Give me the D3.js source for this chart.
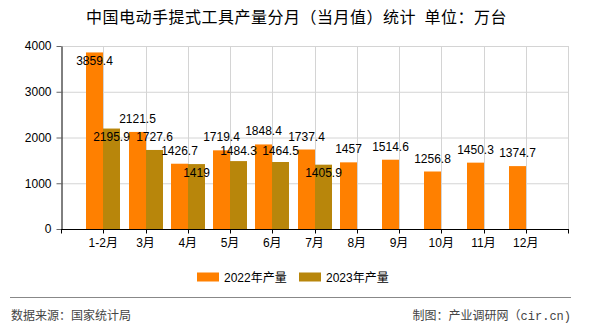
<!DOCTYPE html>
<html><head><meta charset="utf-8">
<script src="https://cdn.jsdelivr.net/npm/d3@7/dist/d3.min.js"></script>
<style>
html,body{margin:0;padding:0;background:#fff;}
svg text{font-family:"Liberation Sans","Noto Sans CJK SC",sans-serif;}
</style></head>
<body>
<svg id="c" width="590" height="330"></svg>
<script>
const categories = ["1-2月","3月","4月","5月","6月","7月","8月","9月","10月","11月","12月"];
const seriesNames = ["2022年产量","2023年产量"];
const values2022 = [3859.4,2121.5,1426.7,1719.4,1848.4,1737.4,1457,1514.6,1256.8,1450.3,1374.7];
const values2023 = [2195.9,1727.6,1419,1484.3,1464.5,1405.9];
const yTicks = [0,1000,2000,3000,4000];
const colors = ["#FF8000","#B8860B"];
const titleText = "中国电动手提式工具产量分月（当月值）统计\u2002单位：万台";
const sourceText = "数据来源：国家统计局";
const creditCJK = "制图：产业调研网（";
const creditLatin = "cir.cn)";

const svg = d3.select("#c");
const L = 61, R = 568, T = 46, B = 229;
const step = (R - L) / 12;
const x = d3.scaleBand().domain(categories).range([L + step/2, R - step/2]).paddingInner(0).paddingOuter(0);
const cx = c => x(c) + x.bandwidth()/2;
const inner = d3.scaleBand().domain(seriesNames).range([-17, 17]);
const y = d3.scaleLinear().domain([0,4000]).range([B, T]);

// title
svg.append("text").attr("x", 86).attr("y", 23).attr("font-size", 16).attr("fill", "#000")
  .style("font-family", "'Noto Sans CJK SC',sans-serif").style("letter-spacing", "0.5px").text(titleText);

// grid
const g = svg.append("g");
g.selectAll("line.h").data(yTicks.filter(d => d > 0)).enter().append("line")
  .attr("x1", L).attr("x2", R).attr("y1", d => y(d) + 0.5).attr("y2", d => y(d) + 0.5)
  .attr("stroke", "#d4d4d4").attr("stroke-width", 1);
g.selectAll("line.v").data(categories).enter().append("line")
  .attr("x1", d => Math.round(cx(d)) + 0.5).attr("x2", d => Math.round(cx(d)) + 0.5)
  .attr("y1", T).attr("y2", B).attr("stroke", "#d4d4d4");
g.append("line").attr("x1", R + 0.5).attr("x2", R + 0.5).attr("y1", T).attr("y2", B).attr("stroke", "#d4d4d4");

// bars
const data = [values2022, values2023];
data.forEach((vals, s) => {
  svg.append("g").selectAll("rect").data(vals).enter().append("rect")
    .attr("x", (d, i) => Math.round(cx(categories[i])) + inner(seriesNames[s]))
    .attr("width", inner.bandwidth())
    .attr("y", d => y(d))
    .attr("height", d => B - y(d))
    .attr("fill", colors[s]);
});

// y axis
const ya = svg.append("g").attr("transform", `translate(${L + 0.5},0)`)
  .call(d3.axisLeft(y).tickValues(yTicks).tickFormat(d3.format("d")).tickSize(5).tickPadding(5).tickSizeOuter(0));
ya.select(".domain").attr("stroke", "#000");
ya.selectAll(".tick line").attr("stroke", "#666");
ya.selectAll("text").attr("font-size", 12).attr("fill", "#000").style("font-family", "'Liberation Sans',sans-serif");

// x axis
const xa = svg.append("g").attr("transform", `translate(0,${B + 0.5})`);
xa.append("line").attr("x1", L).attr("x2", R + 1).attr("stroke", "#000");
xa.selectAll("line.t").data([L, R].concat(categories.map(c => Math.round(cx(c))))).enter().append("line")
  .attr("x1", d => d + 0.5).attr("x2", d => d + 0.5).attr("y1", 0).attr("y2", 4).attr("stroke", "#000");
xa.selectAll("text").data(categories).enter().append("text")
  .attr("x", d => cx(d)).attr("y", 17).attr("text-anchor", "middle").attr("font-size", 12).attr("fill", "#000").text(d => d);

// data labels with simple overlap avoidance
const placed = [];
const lg = svg.append("g");
data.forEach((vals, s) => {
  vals.forEach((v, i) => {
    const lx = Math.round(cx(categories[i])) + inner(seriesNames[s]) + inner.bandwidth()/2;
    const top = y(v);
    const t = lg.append("text").attr("x", lx).attr("text-anchor", "middle").attr("font-size", 12).attr("fill", "#000").text(v);
    const w = t.node().getComputedTextLength();
    const box = b => ({x0: lx - w/2, x1: lx + w/2, y0: b - 11, y1: b + 2, b: b});
    const hit = bx => placed.find(p => p.x0 < bx.x1 && bx.x0 < p.x1 && p.y0 < bx.y1 && bx.y0 < p.y1);
    let base = top - 9;
    if (base - 10 < T) base = top + 12.5;
    else {
      const h = hit(box(base));
      if (h) {
        const shifted = h.b + 14;
        base = (shifted <= top - 4 && !hit(box(shifted))) ? shifted : top + 12.5;
      }
    }
    t.attr("y", base);
    placed.push(box(base));
  });
});

// legend
const leg = svg.append("g");
const legX = [197, 299];
seriesNames.forEach((n, s) => {
  leg.append("rect").attr("x", legX[s]).attr("y", 272.5).attr("width", 22).attr("height", 9).attr("fill", colors[s]);
  leg.append("text").attr("x", legX[s] + 27).attr("y", 282).attr("font-size", 12).attr("fill", "#000").text(n);
});

// footer
svg.append("line").attr("x1", 10).attr("x2", 571).attr("y1", 297.5).attr("y2", 297.5).attr("stroke", "#888");
svg.append("text").attr("x", 11).attr("y", 320).attr("font-size", 12).attr("fill", "#444").text(sourceText);
const ct = svg.append("text").attr("x", 571).attr("y", 320).attr("text-anchor", "end").attr("font-size", 12).attr("fill", "#444");
ct.append("tspan").text(creditCJK);
ct.append("tspan").style("font-family", "'Liberation Mono',monospace").text(creditLatin);
</script>
</body></html>
